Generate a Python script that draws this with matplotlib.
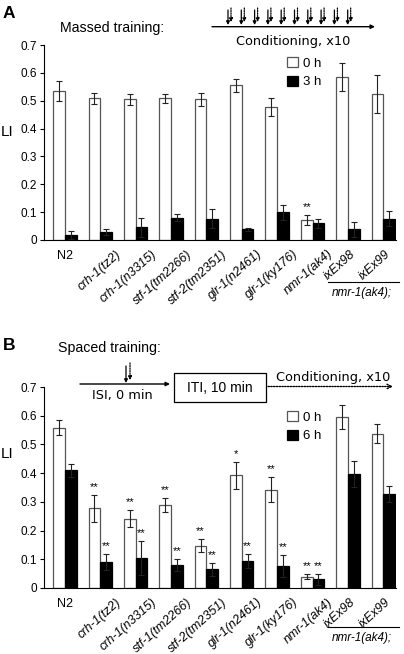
import numpy as np
import matplotlib.pyplot as plt
from matplotlib.patches import Rectangle

plt.rcParams['font.family'] = ['Liberation Sans', 'DejaVu Sans']

strains = ['N2', 'crh-1(tz2)', 'crh-1(n3315)', 'stf-1(tm2266)', 'stf-2(tm2351)',
           'glr-1(n2461)', 'glr-1(ky176)', 'nmr-1(ak4)', 'ixEx98', 'ixEx99']

# panel A, massed training
massed_0h = [0.535, 0.508, 0.505, 0.508, 0.505, 0.556, 0.478, 0.073, 0.586, 0.525]
massed_0h_err = [0.036, 0.02, 0.02, 0.016, 0.023, 0.023, 0.033, 0.018, 0.051, 0.068]
massed_3h = [0.018, 0.028, 0.046, 0.08, 0.077, 0.038, 0.1, 0.06, 0.038, 0.077]
massed_3h_err = [0.013, 0.01, 0.034, 0.013, 0.033, 0.006, 0.027, 0.017, 0.028, 0.027]
massed_0h_stars = ['', '', '', '', '', '', '', '**', '', '']
massed_3h_stars = ['', '', '', '', '', '', '', '', '', '']

# panel B, spaced training
spaced_0h = [0.558, 0.278, 0.242, 0.29, 0.148, 0.392, 0.343, 0.04, 0.595, 0.537]
spaced_0h_err = [0.026, 0.047, 0.03, 0.025, 0.024, 0.046, 0.045, 0.008, 0.042, 0.033]
spaced_6h = [0.41, 0.09, 0.105, 0.08, 0.065, 0.095, 0.077, 0.03, 0.397, 0.326]
spaced_6h_err = [0.022, 0.028, 0.06, 0.02, 0.022, 0.024, 0.038, 0.018, 0.045, 0.028]
spaced_0h_stars = ['', '**', '**', '**', '**', '*', '**', '**', '', '']
spaced_6h_stars = ['', '**', '**', '**', '**', '**', '**', '**', '', '']

fig = plt.figure(figsize=(4.04, 6.54), dpi=100)
W, H = 404, 654


def px_axes(left, top, right, bottom):
    return fig.add_axes([left / W, 1 - bottom / H, (right - left) / W, (bottom - top) / H])


def draw_panel(ax, white, white_err, black, black_err, black_label,
               white_stars, black_stars, label_y, leg_top):
    x = np.arange(len(strains))
    w = 0.33
    ekw = dict(elinewidth=0.8, capsize=2.5, capthick=0.8, ecolor='#222222')
    ax.bar(x - w / 2, white, w, yerr=white_err, color='white', edgecolor='#555555',
           linewidth=0.9, error_kw=ekw, label='0 h')
    ax.bar(x + w / 2, black, w, yerr=black_err, color='black', edgecolor='black',
           linewidth=0.9, error_kw=ekw, label=black_label)
    for i in range(len(strains)):
        if white_stars[i]:
            ax.text(x[i] - w / 2, white[i] + white_err[i] + 0.01, white_stars[i],
                    ha='center', va='bottom', fontsize=8)
        if black_stars[i]:
            ax.text(x[i] + w / 2, black[i] + black_err[i] + 0.01, black_stars[i],
                    ha='center', va='bottom', fontsize=8)
    ax.set_xlim(-0.59, 9.36)
    ax.set_ylim(0, 0.7)
    yt = np.arange(0, 0.71, 0.1)
    ax.set_yticks(yt)
    ax.set_yticklabels(['0'] + ['%.1f' % v for v in yt[1:]], fontsize=8.5)
    ax.tick_params(axis='y', length=3, width=0.8, pad=2)
    ax.set_xticks([])
    for s in ['top', 'right']:
        ax.spines[s].set_visible(False)
    for s in ['left', 'bottom']:
        ax.spines[s].set_linewidth(0.8)
    for i, name in enumerate(strains):
        if name == 'N2':
            ax.text(x[i], -0.036, name, ha='center', va='top', fontsize=9)
        else:
            shift = 0.05 if name.startswith('ixEx') else 0.42
            ax.text(x[i] + shift, -0.028, name, ha='right', va='top', rotation=42,
                    rotation_mode='anchor', style='italic', fontsize=9)
    ax.set_ylabel('LI', rotation=0, fontsize=11)
    ax.yaxis.set_label_coords(-0.104, label_y)
    ax.legend(loc='upper left', bbox_to_anchor=(287 / W, 1 - leg_top / H),
              bbox_transform=fig.transFigure, frameon=False, borderpad=0,
              borderaxespad=0, handlelength=0.8, handleheight=0.8,
              handletextpad=0.4, labelspacing=0.45, fontsize=9.5)


axA = px_axes(44, 45, 396, 240)
draw_panel(axA, massed_0h, massed_0h_err, massed_3h, massed_3h_err, '3 h',
           massed_0h_stars, massed_3h_stars, 0.518, 57)

axB = px_axes(44, 387, 396, 588)
draw_panel(axB, spaced_0h, spaced_0h_err, spaced_6h, spaced_6h_err, '6 h',
           spaced_0h_stars, spaced_6h_stars, 0.632, 411)

# overlay for the schematics and annotations, in pixel units
ov = fig.add_axes([0, 0, 1, 1], zorder=5)
ov.set_xlim(0, W)
ov.set_ylim(H, 0)
ov.axis('off')
ov.patch.set_alpha(0)

# panel A header
ov.text(3, 13, 'A', fontsize=12.5, fontweight='bold', va='center', ha='left')
ov.text(60, 28, 'Massed training:', fontsize=10.2, va='center', ha='left')
ov.annotate('', xy=(375, 26.7), xytext=(212, 26.7),
            arrowprops=dict(arrowstyle='-|>', lw=1, color='k', mutation_scale=6,
                            shrinkA=0, shrinkB=0))
for k in range(10):
    x0 = 228 + 13.3 * k
    ov.annotate('', xy=(x0, 25), xytext=(x0, 10),
                arrowprops=dict(arrowstyle='-|>', lw=0.9, color='k', mutation_scale=5,
                                shrinkA=0, shrinkB=0))
    ov.annotate('', xy=(x0 + 3, 22), xytext=(x0 + 3, 8),
                arrowprops=dict(arrowstyle='-|>', lw=0.9, color='k', mutation_scale=5,
                                linestyle=(0, (1, 1)), shrinkA=0, shrinkB=0))
ov.text(293, 41, 'Conditioning, x10', fontsize=9.3, family='DejaVu Sans',
        va='center', ha='center')

# panel B header
ov.text(3, 346, 'B', fontsize=12.5, fontweight='bold', va='center', ha='left')
ov.text(58, 348, 'Spaced training:', fontsize=10.2, va='center', ha='left')
ov.annotate('', xy=(170, 384), xytext=(80, 384),
            arrowprops=dict(arrowstyle='-|>', lw=1, color='k', mutation_scale=6,
                            shrinkA=0, shrinkB=0))
ov.annotate('', xy=(126, 383), xytext=(126, 366),
            arrowprops=dict(arrowstyle='-|>', lw=0.9, color='k', mutation_scale=5,
                            shrinkA=0, shrinkB=0))
ov.annotate('', xy=(130, 380), xytext=(130, 363),
            arrowprops=dict(arrowstyle='-|>', lw=0.9, color='k', mutation_scale=5,
                            linestyle=(0, (1, 1)), shrinkA=0, shrinkB=0))
ov.text(122, 396, 'ISI, 0 min', fontsize=9.3, family='DejaVu Sans',
        va='center', ha='center')
ov.add_patch(Rectangle((174, 373), 92, 29, fill=False, lw=0.9, edgecolor='k'))
ov.text(220, 387.5, 'ITI, 10 min', fontsize=10, va='center', ha='center')
ov.annotate('', xy=(393, 386.5), xytext=(268, 386.5),
            arrowprops=dict(arrowstyle='->', lw=1, color='k', linestyle=(0, (1, 1)),
                            mutation_scale=8, shrinkA=0, shrinkB=0))
ov.text(333, 377, 'Conditioning, x10', fontsize=9.3, family='DejaVu Sans',
        va='center', ha='center')

# nmr-1(ak4) background brackets
for line_y, text_y in [(281.7, 293), (627, 638)]:
    ov.plot([328, 399], [line_y, line_y], color='k', lw=0.8)
    ov.text(362, text_y, 'nmr-1(ak4);', fontsize=8.5, style='italic',
            ha='center', va='center')

fig.savefig('out.png', dpi=100)
